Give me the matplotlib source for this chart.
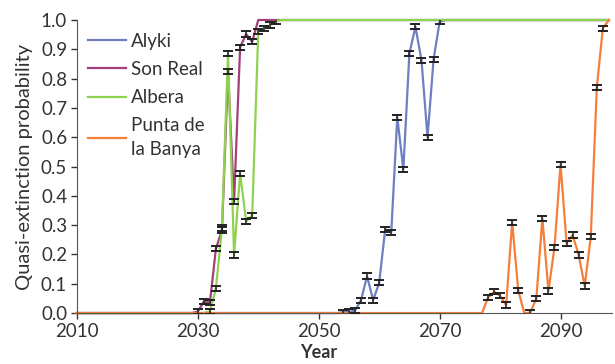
import numpy as np
import matplotlib.pyplot as plt

# yearly quasi-extinction probabilities per population
years = np.arange(2010, 2099)

alyki_years = [2054, 2055, 2056, 2057, 2058, 2059, 2060, 2061, 2062, 2063, 2064,
               2065, 2066, 2067, 2068, 2069, 2070]
alyki_vals = [0.003, 0.004, 0.008, 0.044, 0.126, 0.044, 0.103, 0.286, 0.275, 0.668,
              0.49, 0.886, 0.977, 0.863, 0.60, 0.866, 0.994]

sonreal_years = [2030, 2031, 2032, 2033, 2034, 2035, 2036, 2037, 2038, 2039]
sonreal_vals = [0.005, 0.039, 0.035, 0.22, 0.283, 0.824, 0.38, 0.907, 0.952, 0.926]

albera_years = [2032, 2033, 2034, 2035, 2036, 2037, 2038, 2039, 2040, 2041, 2042, 2043]
albera_vals = [0.005, 0.084, 0.29, 0.886, 0.198, 0.477, 0.312, 0.334, 0.96, 0.971,
               0.983, 0.997]

punta_years = [2078, 2079, 2080, 2081, 2082, 2083, 2084, 2085, 2086, 2087, 2088, 2089,
               2090, 2091, 2092, 2093, 2094, 2095, 2096, 2097]
punta_vals = [0.052, 0.073, 0.059, 0.027, 0.31, 0.078, 0.0, 0.001, 0.05, 0.323, 0.075,
              0.224, 0.508, 0.238, 0.266, 0.198, 0.092, 0.26, 0.77, 0.972]

names = ['Alyki', 'Son Real', 'Albera', 'Punta de\nla Banya']
colors = ['#6e7fc2', '#a3407a', '#8fd24e', '#f57f3a']
err = 0.009


def full_series(yrs, vals):
    # zero before the first listed year, certain extinction after the last
    s = np.where(years < yrs[0], 0.0, 1.0)
    for y, v in zip(yrs, vals):
        s[years == y] = v
    return s


series = [(alyki_years, alyki_vals), (sonreal_years, sonreal_vals),
          (albera_years, albera_vals), (punta_years, punta_vals)]

plt.rcParams['font.family'] = ['Lato', 'DejaVu Sans']
fig = plt.figure(figsize=(6.15, 3.64), dpi=100)
ax = fig.add_axes([0.125, 0.14, 0.87, 0.805])

for (yrs, vals), name, c in zip(series, names, colors):
    ax.plot(years, full_series(yrs, vals), color=c, lw=1.6, label=name,
            clip_on=False, zorder=2)

for (yrs, vals) in series:
    yrs = np.array(yrs)
    vals = np.array(vals)
    m = vals > 0
    ax.errorbar(yrs[m], vals[m], yerr=err, fmt='none', ecolor='#222222',
                elinewidth=1.1, capsize=3.5, capthick=1.4, zorder=3)

ax.set_xlim(2010, 2098.5)
ax.set_ylim(0, 1.0)
ax.set_xticks([2010, 2030, 2050, 2070, 2090])
ax.set_yticks(np.arange(0, 1.01, 0.1))
ax.set_yticklabels(['%.1f' % v for v in np.arange(0, 1.01, 0.1)])
ax.tick_params(labelsize=13.5, colors='#333333', length=4, width=1, pad=3)
for side in ['top', 'right']:
    ax.spines[side].set_visible(False)
for side in ['left', 'bottom']:
    ax.spines[side].set_color('#555555')
ax.set_xlabel('Year', fontsize=13, fontweight='bold', color='#333333')
ax.xaxis.set_label_coords(0.452, -0.105)
ax.set_ylabel('Quasi-extinction probability', fontsize=14.5, color='#333333', labelpad=6)

leg = ax.legend(loc='upper left', bbox_to_anchor=(0.0, 0.995), frameon=False,
                fontsize=13.5, handlelength=2.0, handletextpad=0.3, labelspacing=0.6,
                borderaxespad=0.2, labelcolor='#333333')
for t in leg.get_texts():
    t.set_linespacing(1.45)

fig.savefig('out.png', dpi=100)
